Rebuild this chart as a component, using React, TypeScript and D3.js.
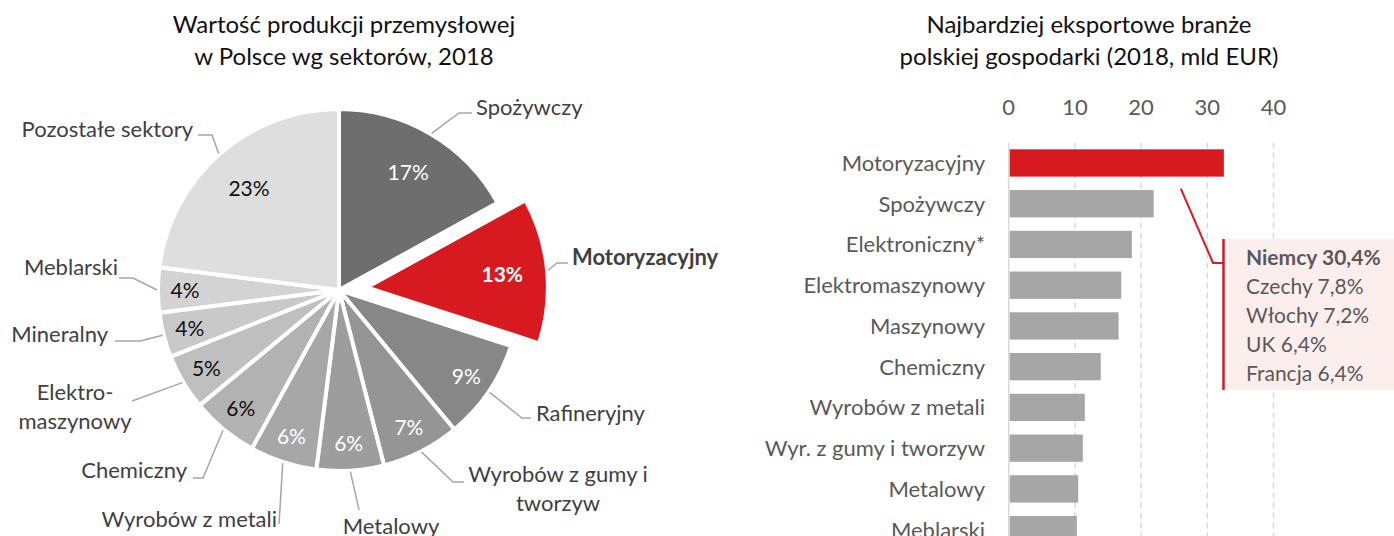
import { arc, pie, scaleBand, scaleLinear } from "d3";
import type { PieArcDatum } from "d3";

// Left chart: share of industrial production by sector (2018)
const sectors = [
  "Spożywczy",
  "Motoryzacyjny",
  "Rafineryjny",
  "Wyrobów z gumy i tworzyw",
  "Metalowy",
  "Wyrobów z metali",
  "Chemiczny",
  "Elektromaszynowy",
  "Mineralny",
  "Meblarski",
  "Pozostałe sektory",
];
const sectorShares = [17, 13, 9, 7, 6, 6, 6, 5, 4, 4, 23];

// Right chart: top exporting branches (2018, bn EUR)
const branches = [
  "Motoryzacyjny",
  "Spożywczy",
  "Elektroniczny*",
  "Elektromaszynowy",
  "Maszynowy",
  "Chemiczny",
  "Wyrobów z metali",
  "Wyr. z gumy i tworzyw",
  "Metalowy",
  "Meblarski",
];
const branchExports = [32.5, 21.9, 18.6, 17.0, 16.6, 13.9, 11.5, 11.2, 10.5, 10.3];
const xTicks = [0, 10, 20, 30, 40];

const marketNames = ["Niemcy", "Czechy", "Włochy", "UK", "Francja"];
const marketShares = ["30,4%", "7,8%", "7,2%", "6,4%", "6,4%"];

const HIGHLIGHT = "Motoryzacyjny";
const RED = "#d71920";
const FONT = "Lato, 'Open Sans', sans-serif";

const SLICE_COLORS = [
  "#6e6e6e",
  RED,
  "#878787",
  "#959595",
  "#9d9d9d",
  "#a7a7a7",
  "#b2b2b2",
  "#bfbfbf",
  "#c9c9c9",
  "#d3d3d3",
  "#dedede",
];
const DARK_PCT = new Set(["Chemiczny", "Elektromaszynowy", "Mineralny", "Meblarski", "Pozostałe sektory"]);

const PIE_CX = 339;
const PIE_CY = 290;
const PIE_R = 181;
const EXPLODE = 28;

type PieLabel = {
  lines: string[];
  x: number;
  y: number;
  anchor: "start" | "middle" | "end";
  elbow: [number, number];
  end?: [number, number];
};

// hand-placed label layout (Excel "best fit" style), same order as sectors
const PIE_LABELS: PieLabel[] = [
  { lines: ["Spożywczy"], x: 476, y: 115, anchor: "start", elbow: [459, 113], end: [472, 113] },
  { lines: ["Motoryzacyjny"], x: 572, y: 265, anchor: "start", elbow: [557, 263], end: [568, 263] },
  { lines: ["Rafineryjny"], x: 536, y: 421, anchor: "start", elbow: [522, 418], end: [531, 418] },
  { lines: ["Wyrobów z gumy i", "tworzyw"], x: 558, y: 482, anchor: "middle", elbow: [453, 482], end: [464, 482] },
  { lines: ["Metalowy"], x: 391, y: 534, anchor: "middle", elbow: [359, 510] },
  { lines: ["Wyrobów z metali"], x: 277, y: 527, anchor: "end", elbow: [279, 524] },
  { lines: ["Chemiczny"], x: 187, y: 478, anchor: "end", elbow: [203, 478], end: [193, 478] },
  { lines: ["Elektro-", "maszynowy"], x: 75, y: 400, anchor: "middle", elbow: [132, 401] },
  { lines: ["Mineralny"], x: 108, y: 342, anchor: "end", elbow: [140, 341], end: [115, 341] },
  { lines: ["Meblarski"], x: 118, y: 275, anchor: "end", elbow: [133, 278], end: [119, 278] },
  { lines: ["Pozostałe sektory"], x: 193, y: 137, anchor: "end", elbow: [212, 135], end: [198, 135] },
];

function PieChart() {
  const slices = pie<number>().sort(null).value((d) => d)(sectorShares);
  const slicePath = arc<PieArcDatum<number>>().innerRadius(0).outerRadius(PIE_R);

  return (
    <g>
      <text x={344} y={33} textAnchor="middle" fontSize={24} fill="#111">
        Wartość produkcji przemysłowej
      </text>
      <text x={344} y={65} textAnchor="middle" fontSize={24} fill="#111">
        w Polsce wg sektorów, 2018
      </text>

      {slices.map((s, i) => {
        const name = sectors[i];
        const mid = (s.startAngle + s.endAngle) / 2;
        const off = name === HIGHLIGHT ? EXPLODE : 0;
        const cx = PIE_CX + Math.sin(mid) * off;
        const cy = PIE_CY - Math.cos(mid) * off;
        const labelR = s.value >= 13 ? 136 : 154;
        const [lx, ly] = arc<PieArcDatum<number>>().innerRadius(labelR).outerRadius(labelR).centroid(s);
        const sx = cx + Math.sin(mid) * (PIE_R + 1);
        const sy = cy - Math.cos(mid) * (PIE_R + 1);
        const lab = PIE_LABELS[i];
        const pts = [[sx, sy], lab.elbow, ...(lab.end ? [lab.end] : [])];
        const bold = name === HIGHLIGHT;
        return (
          <g key={name}>
            <path
              d={slicePath(s) ?? ""}
              transform={`translate(${cx},${cy})`}
              fill={SLICE_COLORS[i]}
              stroke="#fff"
              strokeWidth={4}
              strokeLinejoin="round"
            />
            <text
              x={cx + lx}
              y={cy + ly}
              dy="0.36em"
              textAnchor="middle"
              fontSize={21}
              fontWeight={bold ? 700 : 400}
              fill={DARK_PCT.has(name) ? "#111" : "#fff"}
            >
              {s.value}%
            </text>
            <polyline
              points={pts.map((p) => p.join(",")).join(" ")}
              fill="none"
              stroke="#a6a6a6"
              strokeWidth={1.5}
            />
            <text
              x={lab.x}
              y={lab.y}
              textAnchor={lab.anchor}
              fontSize={22}
              fontWeight={bold ? 700 : 400}
              fill="#404040"
            >
              {lab.lines.map((line, k) => (
                <tspan key={k} x={lab.x} dy={k === 0 ? 0 : 29}>
                  {line}
                </tspan>
              ))}
            </text>
          </g>
        );
      })}
    </g>
  );
}

function BarChart() {
  const x = scaleLinear().domain([0, 40]).range([1008.7, 1273.5]);
  const y = scaleBand<string>()
    .domain(branches)
    .range([142.6, 550])
    .paddingInner(0.33)
    .paddingOuter(0.165);
  const top = y.range()[0];
  const bottom = 536;

  const firstBar = y(HIGHLIGHT) ?? 0;
  const pointerStart: [number, number] = [x(26), firstBar + y.bandwidth() + 12];
  const boxTop = 239;
  const boxBottom = 390;
  const boxLeft = 1228;
  const bracketX = 1223.5;
  const elbow: [number, number] = [1213, 263];

  return (
    <g>
      <text x={1089} y={33} textAnchor="middle" fontSize={24} fill="#111">
        Najbardziej eksportowe branże
      </text>
      <text x={1089} y={65} textAnchor="middle" fontSize={24} fill="#111">
        polskiej gospodarki (2018, mld EUR)
      </text>

      {xTicks.map((t) => (
        <g key={t}>
          <text x={x(t)} y={115} textAnchor="middle" fontSize={22} fill="#595959">
            {t}
          </text>
          {t > 0 ? (
            <line
              x1={x(t)}
              x2={x(t)}
              y1={top}
              y2={bottom}
              stroke="#d9d9d9"
              strokeWidth={1.5}
              strokeDasharray="6,4"
            />
          ) : null}
        </g>
      ))}
      <line x1={x(0)} x2={x(0)} y1={top} y2={bottom} stroke="#d9d9d9" strokeWidth={1.5} />

      {branches.map((b, i) => {
        const by = y(b) ?? 0;
        return (
          <g key={b}>
            <rect
              x={x(0) + 1}
              y={by}
              width={x(branchExports[i]) - x(0) - 1}
              height={y.bandwidth()}
              fill={b === HIGHLIGHT ? RED : "#a6a6a6"}
            />
            <text
              x={985}
              y={by + y.bandwidth() / 2}
              dy="0.36em"
              textAnchor="end"
              fontSize={22}
              fill="#595959"
            >
              {b}
            </text>
          </g>
        );
      })}

      <polyline
        points={[pointerStart, elbow, [bracketX, elbow[1]]].map((p) => p.join(",")).join(" ")}
        fill="none"
        stroke={RED}
        strokeWidth={2}
      />
      <line x1={bracketX} x2={bracketX} y1={boxTop} y2={boxBottom} stroke={RED} strokeWidth={2.5} />
      <rect x={boxLeft} y={boxTop} width={1394 - boxLeft} height={boxBottom - boxTop} fill="#fdeeee" />
      {marketNames.map((m, i) => (
        <text
          key={m}
          x={1246}
          y={265 + i * 29}
          fontSize={21}
          fontWeight={i === 0 ? 700 : 400}
          fill="#595959"
        >
          {m} {marketShares[i]}
        </text>
      ))}
    </g>
  );
}

export default function App() {
  return (
    <div
      style={{
        position: "fixed",
        top: 0,
        left: 0,
        width: 1394,
        height: 536,
        overflow: "hidden",
        background: "#fff",
      }}
    >
      <svg width={1394} height={536} style={{ display: "block", fontFamily: FONT }}>
        <PieChart />
        <BarChart />
      </svg>
    </div>
  );
}
